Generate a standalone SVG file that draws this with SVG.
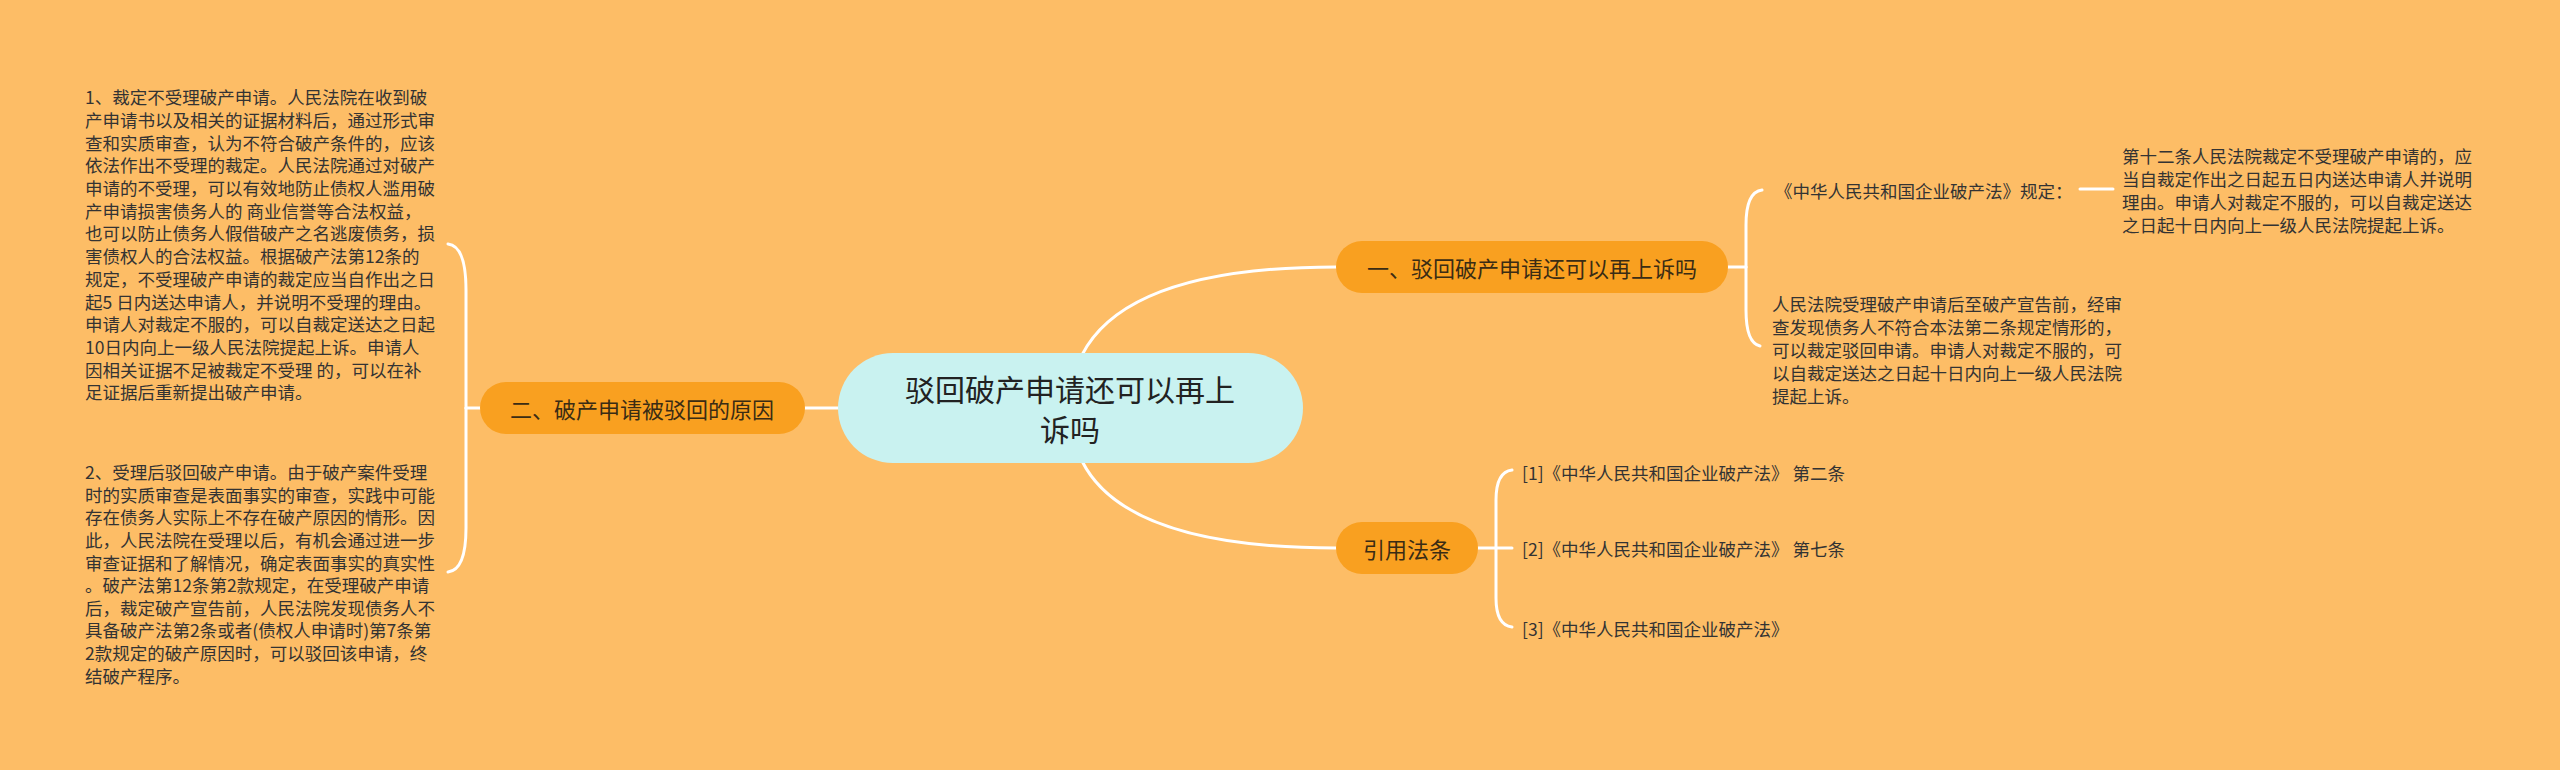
<svg xmlns="http://www.w3.org/2000/svg" width="2560" height="770" viewBox="0 0 2560 770">
<style>
text{font-family:"Noto Sans CJK SC","Noto Sans",sans-serif;dominant-baseline:central;fill:#333333}
.root{fill:#C9F2F0}
.branch{fill:#F9A020}
.rt{font-size:30px;text-anchor:middle;fill:#222222}
.bt{font-size:22px;text-anchor:middle;fill:#3a2c14}
.lt{font-size:17.5px}
.conn{fill:none;stroke:#FFFFFF;stroke-width:3;stroke-linecap:round}
</style>
<rect width="2560" height="770" fill="#FDBD66"/>
<g id="connectors">
<path class="conn" d="M1082,355 C1100,320 1150,267 1336,267"/>
<path class="conn" d="M1082,461 C1100,497 1150,548 1336,548"/>
<path class="conn" d="M805,408 L838,408"/>
<path class="conn" d="M480,408 L466,408"/>
<path class="conn" d="M466,408 L466,290 Q466,246 448,244"/>
<path class="conn" d="M466,408 L466,528 Q466,570 448,572"/>
<path class="conn" d="M1728,267 L1746,267"/>
<path class="conn" d="M1746,267 L1746,225 Q1746,192 1762,190"/>
<path class="conn" d="M1746,267 L1746,310 Q1746,343 1760,346"/>
<path class="conn" d="M2080,189 L2113,189"/>
<path class="conn" d="M1478,548 L1512,548"/>
<path class="conn" d="M1496,548 L1496,500 Q1496,472 1512,470"/>
<path class="conn" d="M1496,548 L1496,598 Q1496,625 1512,627"/>
</g>
<g id="root">
<rect class="root" x="838" y="353" width="465" height="110" rx="55"/>
<text class="rt" x="1070" y="388">驳回破产申请还可以再上</text>
<text class="rt" x="1070" y="428">诉吗</text>
</g>
<g id="branch1">
<rect class="branch" x="1336" y="241" width="392" height="52" rx="26"/>
<text class="bt" x="1532" y="267">一、驳回破产申请还可以再上诉吗</text>
</g>
<g id="branch2">
<rect class="branch" x="480" y="382" width="325" height="52" rx="26"/>
<text class="bt" x="642" y="408">二、破产申请被驳回的原因</text>
</g>
<g id="branch3">
<rect class="branch" x="1336" y="522" width="142" height="52" rx="26"/>
<text class="bt" x="1407" y="548">引用法条</text>
</g>
<g id="leaf-reason1">
<text class="lt" x="85" y="96.7">1、裁定不受理破产申请。人民法院在收到破</text>
<text class="lt" x="85" y="119.4">产申请书以及相关的证据材料后，通过形式审</text>
<text class="lt" x="85" y="142.1">查和实质审查，认为不符合破产条件的，应该</text>
<text class="lt" x="85" y="164.8">依法作出不受理的裁定。人民法院通过对破产</text>
<text class="lt" x="85" y="187.5">申请的不受理，可以有效地防止债权人滥用破</text>
<text class="lt" x="85" y="210.2">产申请损害债务人的 商业信誉等合法权益，</text>
<text class="lt" x="85" y="232.9">也可以防止债务人假借破产之名逃废债务，损</text>
<text class="lt" x="85" y="255.6">害债权人的合法权益。根据破产法第12条的</text>
<text class="lt" x="85" y="278.3">规定，不受理破产申请的裁定应当自作出之日</text>
<text class="lt" x="85" y="301.0">起5 日内送达申请人，并说明不受理的理由。</text>
<text class="lt" x="85" y="323.7">申请人对裁定不服的，可以自裁定送达之日起</text>
<text class="lt" x="85" y="346.4">10日内向上一级人民法院提起上诉。申请人</text>
<text class="lt" x="85" y="369.1">因相关证据不足被裁定不受理 的，可以在补</text>
<text class="lt" x="85" y="391.8">足证据后重新提出破产申请。</text>
</g>
<g id="leaf-reason2">
<text class="lt" x="85" y="471.7">2、受理后驳回破产申请。由于破产案件受理</text>
<text class="lt" x="85" y="494.3">时的实质审查是表面事实的审查，实践中可能</text>
<text class="lt" x="85" y="516.9">存在债务人实际上不存在破产原因的情形。因</text>
<text class="lt" x="85" y="539.5">此，人民法院在受理以后，有机会通过进一步</text>
<text class="lt" x="85" y="562.1">审查证据和了解情况，确定表面事实的真实性</text>
<text class="lt" x="85" y="584.7">。破产法第12条第2款规定，在受理破产申请</text>
<text class="lt" x="85" y="607.3">后，裁定破产宣告前，人民法院发现债务人不</text>
<text class="lt" x="85" y="629.9">具备破产法第2条或者(债权人申请时)第7条第</text>
<text class="lt" x="85" y="652.5">2款规定的破产原因时，可以驳回该申请，终</text>
<text class="lt" x="85" y="675.1">结破产程序。</text>
</g>
<g id="leaf-law">
<text class="lt" x="1775" y="190">《中华人民共和国企业破产法》规定：</text>
</g>
<g id="leaf-article12">
<text class="lt" x="2122" y="155">第十二条人民法院裁定不受理破产申请的，应</text>
<text class="lt" x="2122" y="178">当自裁定作出之日起五日内送达申请人并说明</text>
<text class="lt" x="2122" y="201">理由。申请人对裁定不服的，可以自裁定送达</text>
<text class="lt" x="2122" y="224">之日起十日内向上一级人民法院提起上诉。</text>
</g>
<g id="leaf-reject">
<text class="lt" x="1772" y="303">人民法院受理破产申请后至破产宣告前，经审</text>
<text class="lt" x="1772" y="326">查发现债务人不符合本法第二条规定情形的，</text>
<text class="lt" x="1772" y="349">可以裁定驳回申请。申请人对裁定不服的，可</text>
<text class="lt" x="1772" y="372">以自裁定送达之日起十日内向上一级人民法院</text>
<text class="lt" x="1772" y="395">提起上诉。</text>
</g>
<g id="ref1">
<text class="lt" x="1522" y="472">[1]《中华人民共和国企业破产法》 第二条</text>
</g>
<g id="ref2">
<text class="lt" x="1522" y="548">[2]《中华人民共和国企业破产法》 第七条</text>
</g>
<g id="ref3">
<text class="lt" x="1522" y="628">[3]《中华人民共和国企业破产法》</text>
</g>
</svg>
